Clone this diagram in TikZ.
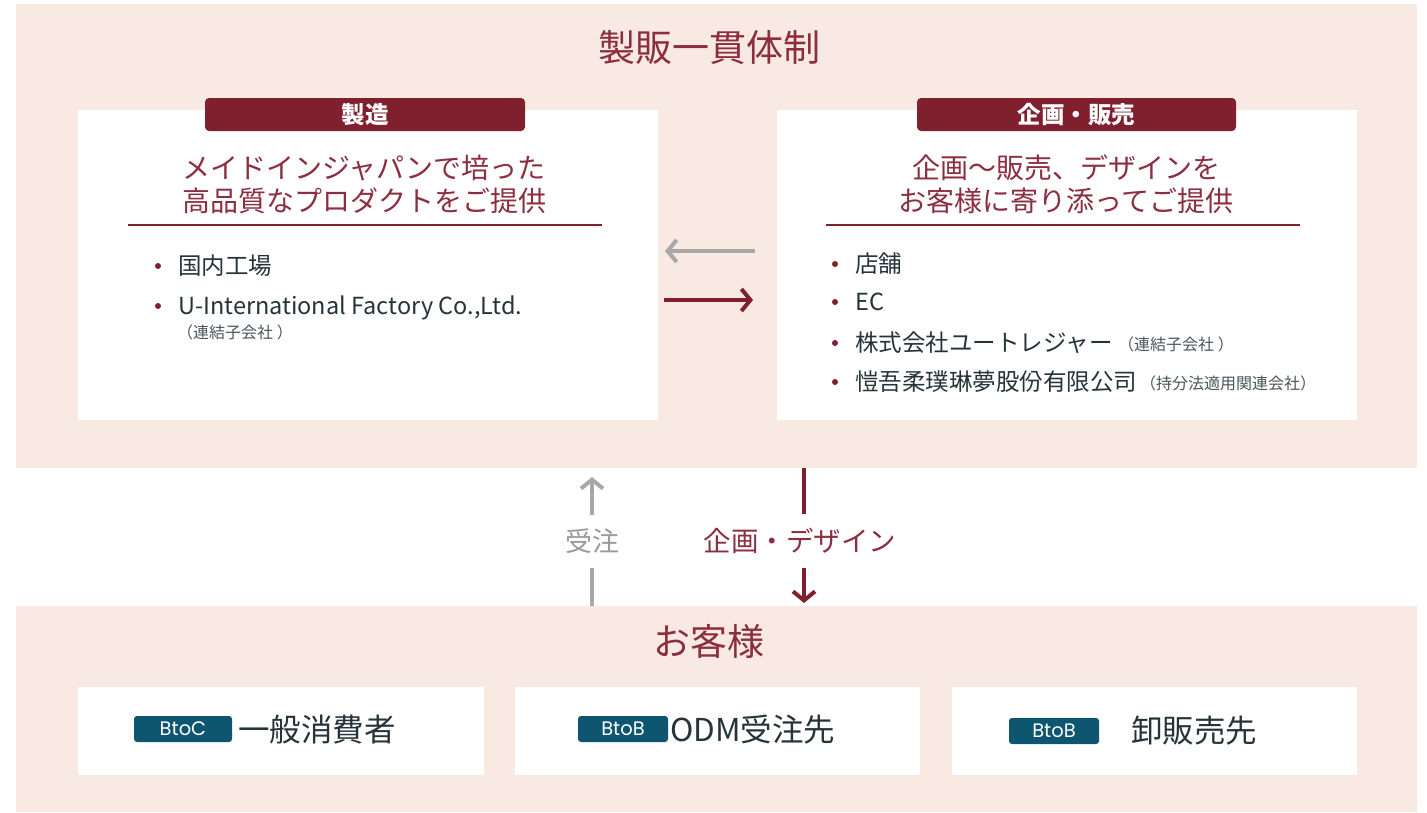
\documentclass[tikz,border=0pt]{standalone}
\usepackage{fontspec}
\setmainfont{Noto Sans CJK JP}
\newfontfamily\jp{Noto Sans CJK JP}
\newfontfamily\badgefont{Poppins}
\usetikzlibrary{arrows.meta}
\definecolor{bgpink}{HTML}{F8EAE3}
\definecolor{darkred}{HTML}{80202F}
\definecolor{headred}{HTML}{8C2E40}
\definecolor{graytxt}{HTML}{9A9A9A}
\definecolor{grayarrow}{HTML}{A8A8A8}
\definecolor{bodytxt}{HTML}{26343A}
\definecolor{smalltxt}{HTML}{4A565C}
\definecolor{badgeblue}{HTML}{0E5570}
\tikzset{
  panel/.style={fill=bgpink, draw=none, anchor=north west, inner sep=0pt},
  whitebox/.style={fill=white, draw=none, anchor=north west, inner sep=0pt},
  tabbox/.style={fill=darkred, rounded corners=4pt, inner sep=0pt, text=white,
     font=\jp\bfseries\fontsize{23.5}{25}\selectfont},
  heading/.style={text=headred, align=center, inner sep=0pt,
     font=\jp\fontsize{28}{33}\selectfont},
  bigtitle/.style={text=headred, inner sep=0pt, font=\jp\fontsize{37}{40}\selectfont},
  item/.style={text=bodytxt, anchor=base west, inner sep=0pt,
     font=\jp\fontsize{23.5}{26}\selectfont},
  smallnote/.style={text=smalltxt, anchor=base west, inner sep=0pt,
     font=\jp\fontsize{16}{18}\selectfont},
  custlabel/.style={text=bodytxt, anchor=west, inner sep=0pt,
     font=\jp\fontsize{31.5}{34}\selectfont},
  badge/.style={fill=badgeblue, rounded corners=3pt, inner sep=0pt, text=white,
     minimum height=26pt, font=\badgefont\fontsize{19.5}{21}\selectfont},
  rule/.style={draw=darkred, line width=1.5pt},
  dotbullet/.style={fill=darkred},
  redarrow/.style={draw=darkred, line width=4pt, -{Straight Barb[length=9pt,width=22pt,line width=4pt]}},
  grayarrowstyle/.style={draw=grayarrow, line width=4pt, -{Straight Barb[length=9pt,width=22pt,line width=4pt]}},
  redline/.style={draw=darkred, line width=4pt},
  grayline/.style={draw=grayarrow, line width=4pt},
}
\begin{document}
\begin{tikzpicture}[x=1pt,y=-1pt]
\useasboundingbox (0,0) rectangle (1427,812);
\fill[white] (0,0) rectangle (1427,812);
% backgrounds
\node[panel, minimum width=1401pt, minimum height=464pt] (topbg) at (16,4) {};
\node[panel, minimum width=1401pt, minimum height=206pt] (botbg) at (16,606) {};
% title
\node[bigtitle] (title) at (709,47) {製販一貫体制};
% white boxes
\node[whitebox, minimum width=580pt, minimum height=310pt] (leftbox) at (78,110) {};
\node[whitebox, minimum width=580pt, minimum height=310pt] (rightbox) at (777,110) {};
% tabs
\node[tabbox, minimum width=320pt, minimum height=33pt] (tabL) at (365,114.5) {製造};
\node[tabbox, minimum width=319pt, minimum height=33pt] (tabR) at (1076.5,114.5) {企画・販売};
% headings
\node[heading] (headL) at (364,184) {メイドインジャパンで培った\\高品質なプロダクトをご提供};
\node[heading] (headR) at (1066,184) {企画～販売、デザインを\\お客様に寄り添ってご提供};
% rules
\draw[rule] (128,225) -- (602,225);
\draw[rule] (826,225) -- (1300,225);
% left bullets
\fill[dotbullet] (158,266) circle (3);
\fill[dotbullet] (158,306) circle (3);
\node[item] (l1) at (178,274.4) {国内工場};
\node[item] (l2) at (178,314.4) {U-International Factory Co.,Ltd.};
\node[smallnote] (l2n) at (177,338) {（連結子会社 ）};
% right bullets
\fill[dotbullet] (835,264) circle (3);
\fill[dotbullet] (835,302) circle (3);
\fill[dotbullet] (835,343) circle (3);
\fill[dotbullet] (835,382) circle (3);
\node[item] (r1) at (855,272.4) {店舗};
\node[item] (r2) at (855,310.4) {EC};
\node[item] (r3) at (855,351.4) {株式会社ユートレジャー};
\node[smallnote] (r3n) at (1118,350) {（連結子会社 ）};
\node[item] (r4) at (855,390.4) {愷吾柔璞琳夢股份有限公司};
\node[smallnote] (r4n) at (1140,389) {（持分法適用関連会社）};
% horizontal arrows
\coordinate (hgA) at (755,251);
\coordinate (hgB) at (665,251);
\coordinate (hrA) at (664,300);
\coordinate (hrB) at (753,300);
\draw[grayarrowstyle] (hgA) -- (hgB);
\draw[redarrow] (hrA) -- (hrB);
% vertical connectors
\node[text=graytxt, inner sep=0pt, font=\jp\fontsize{27}{30}\selectfont] (juchu) at (592,541) {受注};
\node[text=headred, inner sep=0pt, font=\jp\fontsize{27.5}{30}\selectfont] (kikaku) at (800,541) {企画・デザイン};
\coordinate (g1) at (592,606);
\coordinate (g2) at (592,568);
\coordinate (g3) at (592,515);
\coordinate (g4) at (592,477);
\draw[grayline] (g1) -- (g2);
\draw[grayarrowstyle] (g3) -- (g4);
\coordinate (d1) at (804,468);
\coordinate (d2) at (804,514);
\coordinate (d3) at (804,568);
\coordinate (d4) at (804,603);
\draw[redline] (d1) -- (d2);
\draw[redarrow] (d3) -- (d4);
% customers
\node[bigtitle] (okyaku) at (709,641) {お客様};
\node[whitebox, minimum width=406pt, minimum height=88pt] (c1) at (78,687) {};
\node[whitebox, minimum width=405pt, minimum height=88pt] (c2) at (515,687) {};
\node[whitebox, minimum width=405pt, minimum height=88pt] (c3) at (952,687) {};
\node[badge, minimum width=98pt] (b1) at (183,729) {BtoC};
\node[badge, minimum width=90pt] (b2) at (623,729) {BtoB};
\node[badge, minimum width=90pt] (b3) at (1054,731) {BtoB};
\node[custlabel] (t1) at (238,730) {一般消費者};
\node[custlabel] (t2) at (670,730) {ODM受注先};
\node[custlabel] (t3) at (1131,731) {卸販売先};
\end{tikzpicture}
\end{document}
